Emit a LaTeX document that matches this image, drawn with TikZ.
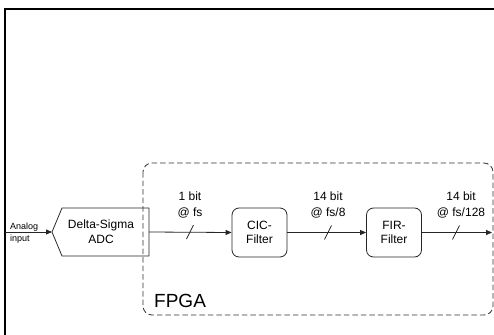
\documentclass[tikz,border=0pt]{standalone}
\usepackage{fontspec}
\setmainfont{Liberation Sans}
\usetikzlibrary{arrows.meta,calc}
\begin{document}
\begin{tikzpicture}[x=1pt,y=-1pt,
  wire/.style={line width=0.8pt,draw=black!85},
  sig/.style={wire,-{Triangle[length=6pt,width=5pt]}},
  filt/.style={draw=black!85,line width=0.8pt,rounded corners=7pt,
    minimum width=55pt,minimum height=49pt,inner sep=0pt,
    align=center,font=\fontsize{12}{14}\selectfont},
  rate/.style={align=center,font=\fontsize{12}{16}\selectfont,inner sep=0pt},
  small/.style={font=\fontsize{9}{10}\selectfont,anchor=base west,inner sep=0pt},
  busmark/.style={wire}
]
\useasboundingbox (0,0) rectangle (494,334);

% Delta-Sigma converter
\coordinate (in) at (5,232);
\coordinate (adctip) at (52,232);
\coordinate (adcnw) at (62,208);
\coordinate (adcne) at (149,208);
\coordinate (adcse) at (149,256);
\coordinate (adcsw) at (62,256);
\coordinate (adcout) at (149,232);
\draw[draw=black!85,line width=0.8pt] (adctip) -- (adcnw) -- (adcne) -- (adcse) -- (adcsw) -- cycle;
\node[align=center,font=\fontsize{12}{15}\selectfont,inner sep=0pt] (adc) at (101,232) {Delta-Sigma\\ADC};

\begin{scope}
\clip (0,0) rectangle (494,334);
% outer frame, continuing past the right and bottom edges
\draw[line width=2pt,black] (5,340) -- (5,9) -- (500,9);
% FPGA region
\draw[draw=black!80,line width=0.8pt,dash pattern=on 5.5pt off 3pt,rounded corners=9pt]
  (143,163) rectangle (493,315);
\end{scope}
\node[font=\fontsize{19}{22}\selectfont,anchor=base west,inner sep=0pt] (fpga) at (154,307) {FPGA};

% input
\node[small] (inA) at (10,229.5) {Analog};
\node[small] (inB) at (10,241.5) {input};
\draw[sig] (in) -- (adctip);

% filters
\node[filt] (cic) at (259.5,232.5) {CIC-\\Filter};
\node[filt] (fir) at (394,232.5) {FIR-\\Filter};
\coordinate (out) at (492,232.5);

\draw[sig] (adcout) -- (cic.west);
\draw[sig] (cic.east) -- (fir.west);
\draw[sig] (fir.east) -- (out);

% bus width marks
\coordinate (m1) at (190,232);
\coordinate (m2) at (328,232.5);
\coordinate (m3) at (456,232.5);
\foreach \m in {m1,m2,m3}
  \draw[busmark] ($(\m)+(-3.5,7)$) -- ($(\m)+(3.5,-7)$);

% rate labels
\node[rate] (r1) at (190,205) {1 bit\\@ fs};
\node[rate] (r2) at (328,205) {14 bit\\@ fs/8};
\node[rate] (r3) at (461,205) {14 bit\\@ fs/128};
\end{tikzpicture}
\end{document}
